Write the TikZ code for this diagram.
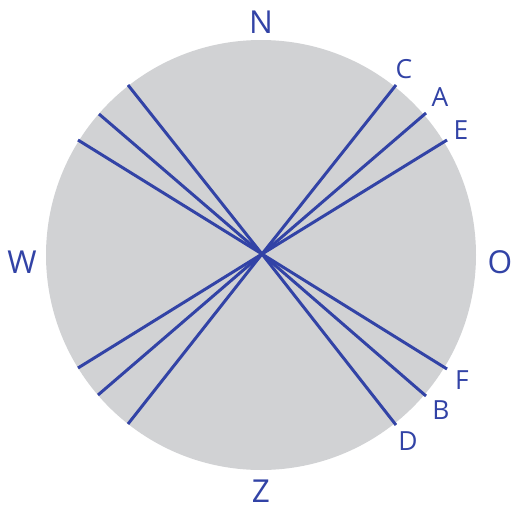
\documentclass[tikz,border=0pt]{standalone}
\usepackage{fontspec}
\setmainfont{Open Sans}
\definecolor{lineblue}{HTML}{3243A6}
\definecolor{disc}{HTML}{D1D2D4}
\tikzstyle{wind} = [lineblue, line width=1.7pt]
\tikzstyle{dir} = [text=lineblue, font=\fontsize{18}{20}\selectfont, inner sep=0pt]
\tikzstyle{tag} = [text=lineblue, font=\fontsize{15}{17}\selectfont, inner sep=0pt]

\begin{document}
\begin{tikzpicture}[x=0.02cm, y=-0.02cm]
	\useasboundingbox (0,0) rectangle (514,514);
	\fill[disc] (261,255) circle (215);
	\coordinate (M) at (262,254);
	% ends of the lines
	\path (M) +(396-262,85-254) coordinate (C)
	       +(426-262,113-254) coordinate (A)
	       +(447-262,140-254) coordinate (E)
	       +(128-262,85-254) coordinate (Dn)
	       +(99-262,114-254) coordinate (Bn)
	       +(78-262,140-254) coordinate (Fn)
	       +(396-262,425-254) coordinate (D)
	       +(426-262,396-254) coordinate (B)
	       +(447-262,369-254) coordinate (F)
	       +(128-262,424-254) coordinate (Cs)
	       +(98-262,395-254) coordinate (As)
	       +(78-262,368-254) coordinate (Es);
	\draw[wind] (C) -- (M) -- (Cs);
	\draw[wind] (A) -- (M) -- (As);
	\draw[wind] (E) -- (M) -- (Es);
	\draw[wind] (D) -- (M) -- (Dn);
	\draw[wind] (B) -- (M) -- (Bn);
	\draw[wind] (F) -- (M) -- (Fn);
	% compass
	\node[dir] (n) at (261,22) {N};
	\node[dir] (z) at (261,491) {Z};
	\node[dir] (w) at (22,262) {W};
	\node[dir] (o) at (500,262) {O};
	% labels
	\node[tag] (lc) at (404,69) {C};
	\node[tag] (la) at (440,97) {A};
	\node[tag] (le) at (461,130) {E};
	\node[tag] (lf) at (462,380) {F};
	\node[tag] (lb) at (441,410) {B};
	\node[tag] (ld) at (408,441) {D};
\end{tikzpicture}
\end{document}
